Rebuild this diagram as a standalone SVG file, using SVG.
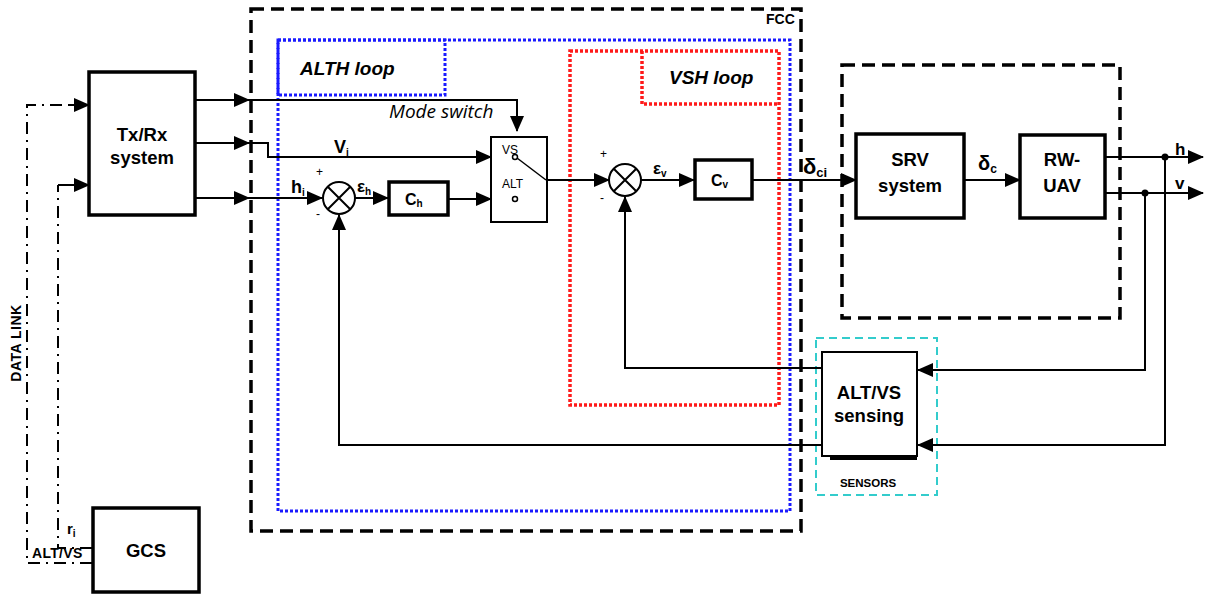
<svg xmlns="http://www.w3.org/2000/svg" width="1205" height="594" viewBox="0 0 1205 594">
<style>
.box{fill:#fff;stroke:#000;stroke-width:3.5}
.thin{fill:#fff;stroke:#000;stroke-width:2}
.ln{fill:none;stroke:#000;stroke-width:2}
.arr{fill:none;stroke:#000;stroke-width:2;marker-end:url(#ah)}
.dl{fill:none;stroke:#000;stroke-width:2;stroke-dasharray:12 6 2 6}
.t{font-family:"Liberation Sans",Arial,sans-serif;font-weight:bold;fill:#000}
.lab{font-family:"Liberation Sans",Arial,sans-serif;font-weight:bold;fill:#000;font-size:18.5px;text-anchor:middle}
.sm{font-family:"Liberation Sans",Arial,sans-serif;fill:#000}
</style>
<defs>
<marker id="ah" markerWidth="16" markerHeight="14" refX="15" refY="7" orient="auto" markerUnits="userSpaceOnUse">
<path d="M0,0 L16,7 L0,14 Z" fill="#000"/>
</marker>
</defs>

<g id="regions">
<rect x="251" y="9" width="550" height="522" fill="none" stroke="#000" stroke-width="3.5" stroke-dasharray="13 7"/>
<text x="766" y="24" class="t" font-size="14">FCC</text>
<rect x="278" y="40" width="512" height="471" fill="none" stroke="#1a1aff" stroke-width="3" stroke-dasharray="3 2"/>
<rect x="278" y="40" width="167" height="55" fill="none" stroke="#1a1aff" stroke-width="3" stroke-dasharray="3 2"/>
<text x="300" y="75" class="t" font-size="19" font-style="italic">ALTH  loop</text>
<path d="M570,51 H779 V405 H570 Z" fill="none" stroke="#ff1a1a" stroke-width="3.5" stroke-dasharray="3 2"/>
<path d="M642,51 V104 H779" fill="none" stroke="#ff1a1a" stroke-width="3.5" stroke-dasharray="3 2"/>
<text x="669" y="84" class="t" font-size="19" font-style="italic">VSH  loop</text>
<rect x="842" y="65" width="278" height="253" fill="none" stroke="#000" stroke-width="3.5" stroke-dasharray="13 7"/>
<rect x="816" y="338" width="121" height="157" fill="none" stroke="#33cccc" stroke-width="2" stroke-dasharray="8 5"/>
<text x="868" y="487" class="t" font-size="11.5" text-anchor="middle" fill="#222">SENSORS</text>
<text transform="translate(21,343) rotate(-90)" class="t" font-size="14" letter-spacing="0.5" text-anchor="middle">DATA LINK</text>
</g>

<g id="connectors">
<polyline class="arr" points="195,100 249,100"/>
<polyline class="ln" points="249,100 517,100 517,116"/>
<polyline class="arr" points="517,112 517,131"/>
<polyline class="arr" points="195,143 249,143"/>
<polyline class="ln" points="249,143 268,143 268,157 480,157"/>
<polyline class="arr" points="470,157 491,157"/>
<polyline class="arr" points="195,198 249,198"/>
<polyline class="arr" points="249,198 322,198"/>
<polyline class="arr" points="355,198 388,198"/>
<polyline class="arr" points="449,199 491,199"/>
<polyline class="ln" points="547,180 595,180"/>
<polyline class="arr" points="590,180 609,180"/>
<polyline class="arr" points="641,180 694,180"/>
<polyline class="ln" points="753,180 840,180"/>
<polyline class="arr" points="835,180 856,180"/>
<polyline class="arr" points="964,180 1020,180"/>
<polyline class="arr" points="1105,157 1203,157"/>
<polyline class="arr" points="1105,193 1203,193"/>
<circle cx="1165" cy="157" r="3.5" fill="#000"/>
<circle cx="1145" cy="193" r="3.5" fill="#000"/>
<polyline class="ln" points="1165,157 1165,445 930,445"/>
<polyline class="arr" points="935,445 918,445"/>
<polyline class="ln" points="1145,193 1145,370 930,370"/>
<polyline class="arr" points="935,370 918,370"/>
<polyline class="ln" points="822,368 625,368 625,215"/>
<polyline class="arr" points="625,220 625,197"/>
<polyline class="ln" points="822,445 339,445 339,230"/>
<polyline class="arr" points="339,232 339,215"/>
<polyline class="dl" points="92,563 27,563 27,105 75,105"/>
<polyline class="arr" points="70,105 89,105"/>
<polyline class="dl" points="92,548 58,548 58,185"/>
<polyline class="arr" points="58,185 89,185"/>
</g>

<g id="txrx">
<rect class="box" x="89" y="72" width="106" height="143"/>
<text class="lab" x="142" y="141">Tx/Rx</text>
<text class="lab" x="142" y="164">system</text>
</g>

<g id="gcs">
<rect class="box" x="93" y="508" width="106" height="84"/>
<text class="lab" x="146" y="557">GCS</text>
<text x="67" y="534" class="t" font-size="15">r<tspan font-size="10" dy="3">i</tspan></text>
<text x="32" y="558" class="t" font-size="14" letter-spacing="0.3">ALT/VS</text>
</g>

<g id="sum-h">
<circle cx="339" cy="198" r="16" fill="#fff" stroke="#000" stroke-width="2"/>
<path d="M328,187 L350,209 M350,187 L328,209" stroke="#000" stroke-width="2"/>
<text x="316" y="176" class="sm" font-size="12">+</text>
<text x="316" y="218" class="sm" font-size="12">-</text>
<text x="291" y="193" class="t" font-size="18">h<tspan font-size="10" dy="3">i</tspan></text>
<text x="357" y="192" class="t" font-size="17">ε<tspan font-size="10" dy="3">h</tspan></text>
</g>

<g id="ch">
<rect class="box" x="389" y="182" width="59" height="33"/>
<text x="405" y="205" class="sm" font-weight="bold" font-size="16">C<tspan font-size="10" dy="2">h</tspan></text>
</g>

<g id="vi-label">
<text x="334" y="153" class="t" font-size="18">V<tspan font-size="10" dy="3">i</tspan></text>
<text x="389" y="118" font-family="Open Sans,Liberation Sans,sans-serif" font-size="19" font-style="italic" fill="#000">Mode switch</text>
</g>

<g id="switch">
<rect class="thin" x="491" y="137" width="56" height="85"/>
<text x="502" y="154" class="sm" font-size="12">VS</text>
<text x="502" y="188" class="sm" font-size="12">ALT</text>
<circle cx="515" cy="157" r="2.5" fill="#fff" stroke="#000" stroke-width="1.5"/>
<circle cx="515" cy="199" r="2.5" fill="#fff" stroke="#000" stroke-width="1.5"/>
<line x1="517" y1="158" x2="546" y2="180" stroke="#000" stroke-width="1.5"/>
</g>

<g id="sum-v">
<circle cx="625" cy="180" r="16" fill="#fff" stroke="#000" stroke-width="2"/>
<path d="M614,169 L636,191 M636,169 L614,191" stroke="#000" stroke-width="2"/>
<text x="600" y="158" class="sm" font-size="12">+</text>
<text x="600" y="202" class="sm" font-size="12">-</text>
<text x="653" y="174" class="t" font-size="17">ε<tspan font-size="10" dy="3">v</tspan></text>
</g>

<g id="cv">
<rect class="box" x="695" y="160" width="57" height="39"/>
<text x="711" y="186" class="sm" font-weight="bold" font-size="16">C<tspan font-size="10" dy="2">v</tspan></text>
<text x="803" y="174" class="t" font-size="22">δ<tspan font-size="13" dy="3">ci</tspan></text>
</g>

<g id="srv">
<rect class="box" x="856" y="134" width="108" height="84"/>
<text class="lab" x="910" y="166">SRV</text>
<text class="lab" x="910" y="192">system</text>
<text x="978" y="170" class="t" font-size="20">δ<tspan font-size="12" dy="3">c</tspan></text>
</g>

<g id="rwuav">
<rect class="box" x="1020" y="135" width="85" height="83"/>
<text class="lab" x="1062" y="166">RW-</text>
<text class="lab" x="1062" y="192">UAV</text>
<text x="1175" y="155" class="t" font-size="17">h</text>
<text x="1175" y="189" class="t" font-size="17">v</text>
</g>

<g id="sensing">
<rect x="830" y="455" width="87" height="5" fill="#000"/>
<rect class="thin" x="822" y="352" width="95" height="104"/>
<text class="lab" x="869" y="399">ALT/VS</text>
<text class="lab" x="869" y="422">sensing</text>
</g>
</svg>
